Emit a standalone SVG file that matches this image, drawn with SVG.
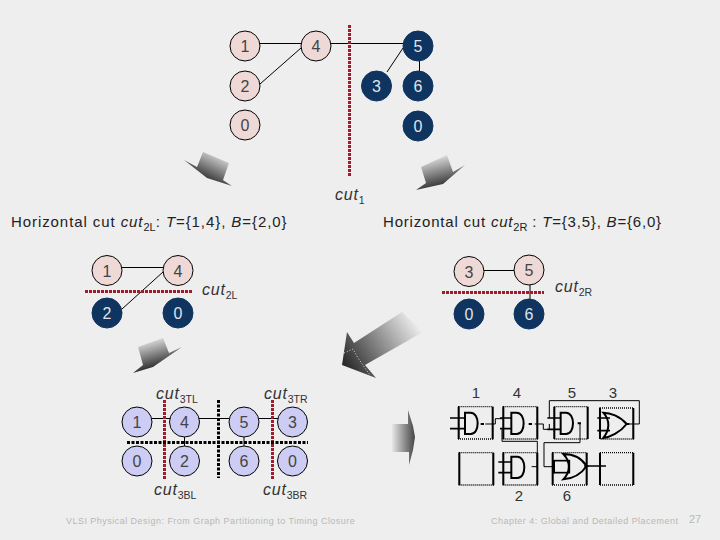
<svg xmlns="http://www.w3.org/2000/svg" width="720" height="540" viewBox="0 0 720 540">
<style>
text{font-family:"Liberation Sans",Arial,sans-serif}
.n text{font-size:16px;text-anchor:middle}
.p circle{fill:#efd9d6;stroke:#000;stroke-width:1}
.p text{fill:#444}
.d circle{fill:#0f3460;stroke:#0f3460;stroke-width:1}
.d text{fill:#dfe4ea}
.b circle{fill:#ccccf4;stroke:#000;stroke-width:1}
.b text{fill:#444}
.e path{stroke:#000;stroke-width:1;fill:none}
.red{stroke:#a01c2c;stroke-width:3;stroke-dasharray:3 1;fill:none}
.blk{stroke:#000;stroke-width:3;stroke-dasharray:3 1.500;fill:none}
.l{font-size:16px;fill:#333}
.l .m{font-style:italic;letter-spacing:.8px}
.l .s{font-size:10.500px}
.t{font-size:15px;fill:#222;letter-spacing:.92px}
.t .s{font-size:11px;letter-spacing:0}
.i{font-style:italic}
.f{font-size:9px;fill:#b8b8b8;letter-spacing:.47px}
.num{font-size:15px;fill:#333;text-anchor:middle}
.g path,.g rect{fill:none;stroke:#000}
.g .dot{stroke-width:4;stroke-dasharray:3 3}
.g .bar{stroke-width:6}
.g .pin{stroke-width:5}
.g .th{stroke-width:6}
.g .w{stroke-width:3}
.g .sq{stroke-width:5}
</style>
<defs>
<linearGradient id="a1" gradientUnits="userSpaceOnUse" x1="222" y1="152" x2="207" y2="182"><stop offset="0" stop-color="#eee"/><stop offset="1" stop-color="#2a2a2a"/></linearGradient>
<linearGradient id="a2" gradientUnits="userSpaceOnUse" x1="432" y1="155" x2="440" y2="188"><stop offset="0" stop-color="#eee"/><stop offset="1" stop-color="#2a2a2a"/></linearGradient>
<linearGradient id="a3" gradientUnits="userSpaceOnUse" x1="148" y1="338" x2="156" y2="368"><stop offset="0" stop-color="#eee"/><stop offset="1" stop-color="#2a2a2a"/></linearGradient>
<linearGradient id="a4" gradientUnits="userSpaceOnUse" x1="415" y1="320" x2="345" y2="365"><stop offset="0" stop-color="#eee"/><stop offset="1" stop-color="#2a2a2a"/></linearGradient>
<linearGradient id="a5" gradientUnits="userSpaceOnUse" x1="391" y1="0" x2="415" y2="0"><stop offset="0" stop-color="#eee"/><stop offset="1" stop-color="#444"/></linearGradient>
</defs>
<rect width="720" height="540" fill="#eeeeee"/>

<g id="arrows">
<path d="M184 160L197 167L203 152L229 163L223 180L232 186L207 178Z" fill="url(#a1)"/>
<path d="M416 190L426 183L421 167L447 155L453 172L465 165L443 184Z" fill="url(#a2)"/>
<path d="M133 373L143 365L138 347L163 338L169 353L182 347L153 367Z" fill="url(#a3)"/>
<path d="M402 312L423 332L365 365L376 378L342 365L347 332L354 343Z" fill="url(#a4)"/>
<path d="M344 353L353 349L358 358L370 375" fill="none" stroke="#fff" stroke-width=".8" stroke-dasharray="1 2"/>
<path d="M392 424H408V410L413 426L415 437L413 450L409 465V452H392Z" fill="url(#a5)"/>
</g>

<g id="connectors" class="e">
<path d="M260 43.500H301M260 84L301 48M331 43.500H403M387 72L403 48M419.500 61V71"/>
<path d="M122 267.500H163M122 309L163 272"/>
<path d="M484 270.500H514M530 285V299"/>
<path d="M152 418.500H170M199 418.500H229M259 418.500H278M184.500 437V446M244 437V446"/>
</g>

<g id="cuts">
<path class="red" d="M349.500 25V177"/>
<path class="red" d="M85 291.500H192"/>
<path class="red" d="M442 292.500H544"/>
<path class="red" d="M164.500 400V479"/>
<path class="red" d="M272.500 400V479"/>
<path class="blk" d="M218.500 400V478"/>
<path class="blk" d="M127 442.500H308"/>
</g>

<g id="n1" class="n p"><circle cx="245" cy="46" r="15"/><text x="245" y="52">1</text></g>
<g id="n4" class="n p"><circle cx="316" cy="46" r="15"/><text x="316" y="52">4</text></g>
<g id="n2" class="n p"><circle cx="245" cy="86" r="15"/><text x="245" y="92">2</text></g>
<g id="n0" class="n p"><circle cx="245" cy="125" r="15"/><text x="245" y="131">0</text></g>
<g id="n5" class="n d"><circle cx="418" cy="46" r="15"/><text x="418" y="52">5</text></g>
<g id="n3" class="n d"><circle cx="376.500" cy="86" r="15"/><text x="376.500" y="92">3</text></g>
<g id="n6" class="n d"><circle cx="418" cy="86" r="15"/><text x="418" y="92">6</text></g>
<g id="n0b" class="n d"><circle cx="418" cy="126" r="15"/><text x="418" y="132">0</text></g>

<g id="l1" class="n p"><circle cx="107" cy="270.500" r="15"/><text x="107" y="276.500">1</text></g>
<g id="l4" class="n p"><circle cx="178" cy="270.500" r="15"/><text x="178" y="276.500">4</text></g>
<g id="l2" class="n d"><circle cx="107" cy="313" r="15"/><text x="107" y="319">2</text></g>
<g id="l0" class="n d"><circle cx="178" cy="313" r="15"/><text x="178" y="319">0</text></g>

<g id="r3" class="n p"><circle cx="469" cy="271.500" r="15"/><text x="469" y="277.500">3</text></g>
<g id="r5" class="n p"><circle cx="529" cy="270" r="15"/><text x="529" y="276">5</text></g>
<g id="r0" class="n d"><circle cx="469" cy="314" r="15"/><text x="469" y="320">0</text></g>
<g id="r6" class="n d"><circle cx="529" cy="314" r="15"/><text x="529" y="320">6</text></g>

<g id="b1" class="n b"><circle cx="137" cy="422" r="15"/><text x="137" y="428">1</text></g>
<g id="b4" class="n b"><circle cx="184.500" cy="422" r="15"/><text x="184.500" y="428">4</text></g>
<g id="b5" class="n b"><circle cx="244" cy="422" r="15"/><text x="244" y="428">5</text></g>
<g id="b3" class="n b"><circle cx="292.500" cy="422" r="15"/><text x="292.500" y="428">3</text></g>
<g id="b0" class="n b"><circle cx="137" cy="461" r="15"/><text x="137" y="467">0</text></g>
<g id="b2" class="n b"><circle cx="184.500" cy="461" r="15"/><text x="184.500" y="467">2</text></g>
<g id="b6" class="n b"><circle cx="244" cy="461" r="15"/><text x="244" y="467">6</text></g>
<g id="b0b" class="n b"><circle cx="292.500" cy="461" r="15"/><text x="292.500" y="467">0</text></g>

<g id="labels">
<text class="l" x="335" y="200"><tspan class="m">cut</tspan><tspan class="s" dy="4">1</tspan></text>
<text class="t" x="11" y="227">Horizontal cut <tspan class="i">cut</tspan><tspan class="s" dy="4">2L</tspan><tspan dy="-4">: </tspan><tspan class="i">T</tspan>={1,4}, <tspan class="i">B</tspan>={2,0}</text>
<text class="t" x="383" y="227" style="letter-spacing:.8px">Horizontal cut <tspan class="i">cut</tspan><tspan class="s" dy="4">2R</tspan><tspan dy="-4"> : </tspan><tspan class="i">T</tspan>={3,5}, <tspan class="i">B</tspan>={6,0}</text>
<text class="l" x="202" y="295"><tspan class="m">cut</tspan><tspan class="s" dy="4">2L</tspan></text>
<text class="l" x="555" y="292"><tspan class="m">cut</tspan><tspan class="s" dy="4">2R</tspan></text>
<text class="l" x="156" y="399"><tspan class="m">cut</tspan><tspan class="s" dy="4">3TL</tspan></text>
<text class="l" x="264" y="399"><tspan class="m">cut</tspan><tspan class="s" dy="4">3TR</tspan></text>
<text class="l" x="154" y="495"><tspan class="m">cut</tspan><tspan class="s" dy="4">3BL</tspan></text>
<text class="l" x="263" y="495"><tspan class="m">cut</tspan><tspan class="s" dy="4">3BR</tspan></text>
<text class="f" x="66" y="524">VLSI Physical Design: From Graph Partitioning to Timing Closure</text>
<text class="f" x="491" y="524">Chapter 4: Global and Detailed Placement</text>
<text class="f" x="689" y="523" style="letter-spacing:0;font-size:11px">27</text>
</g>

<g id="circuit">
<text class="num" x="476" y="398">1</text>
<text class="num" x="517" y="398">4</text>
<text class="num" x="572" y="398">5</text>
<text class="num" x="613" y="398">3</text>
<text class="num" x="519" y="501">2</text>
<text class="num" x="567" y="501">6</text>
<g class="g" transform="translate(440 380) scale(.3333)">
<rect class="dot" x="56" y="80" width="102" height="97"/>
<rect class="dot" x="190" y="80" width="102" height="97"/>
<rect class="dot" x="343" y="80" width="100" height="97"/>
<rect class="dot" x="480" y="84" width="100" height="93"/>
<rect class="dot" x="58" y="218" width="102" height="97"/>
<rect class="dot" x="190" y="218" width="102" height="97"/>
<rect class="dot" x="338" y="218" width="102" height="97"/>
<rect class="dot" x="480" y="218" width="100" height="97"/>
<path class="bar" d="M56 80V177M158 80V177M190 80V177M292 80V177M343 80V177M443 80V177M480 84V177M580 84V177M58 218V315M160 218V315M190 218V315M292 218V315M338 218V315M440 218V315M480 218V315M580 218V315"/>
<path class="w" d="M136 132H166V116H192M284 132H310V148H328V132M328 114V62H598V132H566M186 148V184H292V260H275M420 130V188H312V260H340"/>
<path class="pin" d="M30 114H75M30 146H75M180 114H214M180 146H214M322 114H362M322 148H362M175 246H214M175 278H214M472 114H510M472 152H510M440 258H498M480 225V295"/>
<path class="th" d="M75 98V162H92C120 162 120 98 92 98ZM214 98V162H230C258 162 258 98 230 98ZM362 98V162H378C406 162 406 98 378 98ZM214 230V294H232C260 294 260 230 232 230Z"/>
<path class="th" d="M490 98C510 98 540 108 560 132C540 158 510 172 490 174C510 150 510 120 490 98Z"/>
<path class="th" d="M370 222C400 222 425 235 440 258C425 280 400 296 370 298C392 275 392 245 370 222Z"/>
<path class="th" d="M122 132H132M266 132H276M413 130H423M558 132H568M433 258H445"/>
<rect class="sq" x="342" y="242" width="46" height="36"/>
<path class="bar" d="M342 240V280"/>
</g>
</g>
</svg>
